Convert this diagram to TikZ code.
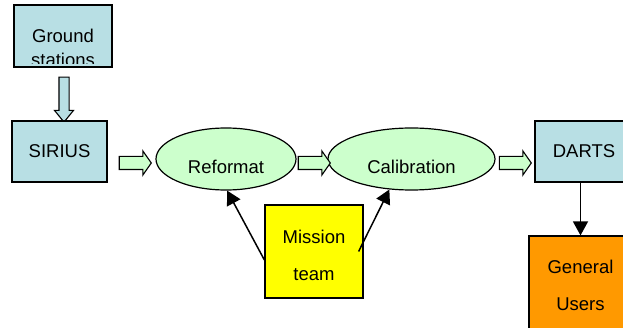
\documentclass[tikz,border=0pt]{standalone}
\usepackage{fontspec}
\setmainfont{Liberation Sans}
\usetikzlibrary{shapes.geometric,shapes.arrows,arrows.meta,calc}
\definecolor{boxblue}{HTML}{B8DFE4}
\definecolor{ellgreen}{HTML}{CCFFCC}
\definecolor{myyellow}{HTML}{FFFF00}
\definecolor{myorange}{HTML}{FF9900}
\begin{document}
\begin{tikzpicture}[x=1pt,y=-1pt,
  every node/.style={font=\fontsize{18.5}{22}\selectfont, text=black},
  bluebox/.style={draw=black, line width=1.2pt, fill=boxblue, inner sep=0pt},
  twoline/.style={font=\fontsize{18.5}{37}\selectfont, align=center},
  ell/.style={ellipse, draw=black, line width=1.2pt, fill=ellgreen, inner sep=0pt, minimum height=62pt, text height=30pt, text depth=0pt},
  blockarrow/.style={single arrow, draw=black, line width=1.1pt, fill=ellgreen, inner xsep=0pt, inner ysep=6pt, single arrow head extend=5.5pt, single arrow tip angle=110, minimum height=32pt},
  downarrow/.style={single arrow, draw=black, line width=1.1pt, fill=boxblue, inner xsep=0pt, inner ysep=4.5pt, single arrow head extend=4.5pt, single arrow tip angle=78, minimum height=45pt, rotate=-90},
  conn/.style={line width=1.5pt, -{Triangle[width=15pt,length=14pt]}}]
\useasboundingbox (0,0) rectangle (623,328);

% Ground stations
\node[bluebox, minimum width=98pt, minimum height=62pt] (gs) at (63,36) {};
\begin{scope}
  \clip (15,6) rectangle (111,64);
  \node[anchor=base] (gst1) at (63,43) {Ground};
  \node[anchor=base] (gst2) at (63,66.5) {stations};
\end{scope}

% down block arrow
\node[downarrow] (da) at (64,96.5) {};

% SIRIUS
\node[bluebox, minimum width=95pt, minimum height=61pt] (sirius) at (59.5,151.5) {SIRIUS};

% ellipses
\node[ell, minimum width=140pt] (rf) at (226,159) {Reformat};
\node[ell, minimum width=167pt] (cal) at (411.5,159) {Calibration};

% DARTS
\node[bluebox, minimum width=98pt, minimum height=61pt] (darts) at (584,151.5) {DARTS};

% General Users
\node[draw=black, line width=1.2pt, fill=myorange, inner sep=0pt, minimum width=103pt, minimum height=99pt, twoline] (gu) at (580.5,285.5) {General\\Users};

% Mission team
\node[draw=black, line width=1.2pt, fill=myyellow, inner sep=0pt, minimum width=98pt, minimum height=93pt] (mt) at (314,251.5) {};
\node[twoline] (mtt) at (314,255.5) {Mission\\team};

% block arrows
\node[blockarrow] (a1) at (133,163) {};
\node[blockarrow] (a2) at (312,163) {};
\node[blockarrow] (a3) at (513,163) {};

% connectors
\draw[conn] (darts.south -| gu.north) -- (gu.north);
\draw[conn] ([yshift=-8.5pt]mt.west) -- (rf.272);
\draw[conn] ([xshift=-5pt]mt.east) -- (cal.234);
\end{tikzpicture}
\end{document}
